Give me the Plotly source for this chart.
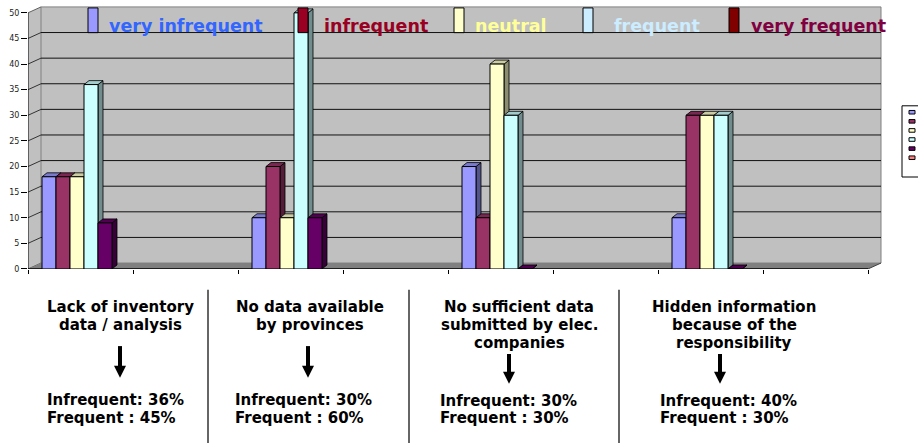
import plotly.graph_objects as go

# ---------------- data ----------------
series_names = ["very infrequent", "infrequent", "neutral", "frequent", "very frequent", "Series 6"]
series_colors = ["#9999FF", "#993366", "#FFFFCC", "#CCFFFF", "#660066", "#FF8080"]
very_infrequent = [18, 10, 20, 10]
infrequent = [18, 20, 10, 30]
neutral = [18, 10, 40, 30]
frequent = [36, 50, 30, 30]
very_frequent = [9, 10, 0, 0]
series_6 = [None, None, None, None]
series_values = [very_infrequent, infrequent, neutral, frequent, very_frequent, series_6]

problems = [
    ["Lack of inventory", "data / analysis"],
    ["No data available", "by provinces"],
    ["No sufficient data", "submitted by elec.", "companies"],
    ["Hidden information", "because of the", "responsibility"],
]
infrequent_pct = [36, 30, 30, 40]
frequent_pct = [45, 60, 30, 30]

legend_labels = ["very infrequent", "infrequent", "neutral", "frequent", "very frequent"]
legend_swatch_colors = ["#9999FF", "#990022", "#FFFFCC", "#CCECFF", "#800000"]
legend_text_colors = ["#3366FF", "#990022", "#FFFF99", "#CCECFF", "#800040"]

y_ticks = list(range(0, 51, 5))

# ---------------- geometry (pixels) ----------------
W, H = 918, 448
X0_PX, SLOT_PX = 28, 105.0
Y0_PX, UNIT_PX = 272, 5.18
N_SLOTS = 8
WALL_DX_PX, WALL_DY_PX = 13, 6
BAR_PX = 14
BAR_DX_PX, BAR_DY_PX = 5, 4

x_max = N_SLOTS + (WALL_DX_PX + 1) / SLOT_PX
y_max = 50 + (WALL_DY_PX + 1) / UNIT_PX
right_px = X0_PX + SLOT_PX * x_max
top_px = Y0_PX - UNIT_PX * y_max

wdx = WALL_DX_PX / SLOT_PX
wdy = WALL_DY_PX / UNIT_PX
bw = BAR_PX / SLOT_PX
bdx = BAR_DX_PX / SLOT_PX
bdy = BAR_DY_PX / UNIT_PX


def px(x):
    return x / W


def py(y):
    return 1 - y / H


def shade(hexcol, f):
    h = hexcol.lstrip("#")
    r, g, b = (int(h[i:i + 2], 16) for i in (0, 2, 4))
    return "rgb(%d,%d,%d)" % (r * f, g * f, b * f)


fig = go.Figure()
shapes = []

# walls / floor
shapes.append(dict(type="path", xref="x", yref="y", layer="below",
                   path=f"M 0,0 L {wdx},{wdy} L {wdx},{50 + wdy} L 0,50 Z",
                   fillcolor="#C0C0C0", line=dict(width=0)))
shapes.append(dict(type="rect", xref="x", yref="y", layer="below",
                   x0=wdx, x1=N_SLOTS + wdx, y0=wdy, y1=50 + wdy,
                   fillcolor="#C0C0C0", line=dict(color="#808080", width=1)))
for v in y_ticks:
    if 0 < v < 50:
        shapes.append(dict(type="line", xref="x", yref="y", layer="below",
                           x0=wdx, x1=N_SLOTS + wdx, y0=v + wdy, y1=v + wdy,
                           line=dict(color="#111111", width=1)))
    shapes.append(dict(type="line", xref="x", yref="y", layer="below",
                       x0=0, x1=wdx, y0=v, y1=v + wdy,
                       line=dict(color="#333333" if 0 < v < 50 else "#606060", width=1)))
shapes.append(dict(type="path", xref="x", yref="y", layer="below",
                   path=f"M 0,0 L {N_SLOTS},0 L {N_SLOTS + wdx},{wdy} L {wdx},{wdy} Z",
                   fillcolor="#808080", line=dict(width=0)))
shapes.append(dict(type="line", xref="x", yref="y", layer="below",
                   x0=N_SLOTS, x1=N_SLOTS + wdx, y0=0, y1=wdy, line=dict(color="#404040", width=1)))
shapes.append(dict(type="line", xref="x", yref="y", layer="below",
                   x0=0, x1=0, y0=0, y1=50, line=dict(color="#000000", width=1)))
shapes.append(dict(type="line", xref="x", yref="y", layer="below",
                   x0=0, x1=N_SLOTS, y0=0, y1=0, line=dict(color="#000000", width=1.5)))

# bars with 3D faces
for k in range(len(problems)):
    for j, (vals, col) in enumerate(zip(series_values, series_colors)):
        v = vals[k]
        if v is None:
            continue
        left = 2 * k + bw * (j + 1)
        right = left + bw
        shapes.append(dict(type="path", xref="x", yref="y", layer="below",
                           path=f"M {right},0 L {right + bdx},{bdy} L {right + bdx},{v + bdy} L {right},{v} Z",
                           fillcolor=shade(col, 0.55), line=dict(color="#000000", width=0.8)))
        shapes.append(dict(type="path", xref="x", yref="y", layer="below",
                           path=f"M {left},{v} L {right},{v} L {right + bdx},{v + bdy} L {left + bdx},{v + bdy} Z",
                           fillcolor=shade(col, 0.8), line=dict(color="#000000", width=0.8)))

for j, (name, vals, col) in enumerate(zip(series_names, series_values, series_colors)):
    fig.add_trace(go.Bar(
        name=name,
        x=[2 * k + bw * (j + 1) for k in range(len(vals))],
        y=vals, width=bw, offset=0,
        marker=dict(color=col, line=dict(color="#000000", width=1)),
        showlegend=False, hoverinfo="skip"))

annotations = []
# top legend
swatch_x = [88, 298, 454, 583, 729]
text_x = [107, 322, 473, 612, 749]
for lab, sc, tc, sx, tx in zip(legend_labels, legend_swatch_colors, legend_text_colors, swatch_x, text_x):
    shapes.append(dict(type="rect", xref="paper", yref="paper", layer="above",
                       x0=px(sx), x1=px(sx + 10), y0=py(33), y1=py(8),
                       fillcolor=sc, line=dict(color="#000000", width=1)))
    annotations.append(dict(text=lab, x=px(tx), y=py(26), xref="paper", yref="paper",
                            xanchor="left", yanchor="middle", showarrow=False,
                            font=dict(family="DejaVu Sans", size=17.5, color=tc, weight="bold")))

# right mini legend
shapes.append(dict(type="rect", xref="paper", yref="paper", layer="above",
                   x0=px(902), x1=px(940), y0=py(179), y1=py(107),
                   fillcolor="#FFFFFF", line=dict(color="#000000", width=1)))
for j, col in enumerate(series_colors):
    cy = 113.5 + 9.2 * j
    shapes.append(dict(type="rect", xref="paper", yref="paper", layer="above",
                       x0=px(909), x1=px(915), y0=py(cy + 1.8), y1=py(cy - 1.8),
                       fillcolor=col, line=dict(color="#000000", width=1)))

# bottom explanations
title_cx = [120, 310, 519, 734]
arrow_x = [120, 308, 509, 720]
arrow_y = [(350, 382), (350, 382), (358, 388), (358, 388)]
pct_x = [45, 233, 438, 658]
pct_y = [(405, 423), (405, 423), (406, 423), (406, 423)]
bold = dict(family="DejaVu Sans", size=15, color="#000000", weight="bold")
for k, lines in enumerate(problems):
    for i, line in enumerate(lines):
        annotations.append(dict(text=line, x=px(title_cx[k]), y=py(310 + 18.5 * i),
                                xref="paper", yref="paper", xanchor="center", yanchor="middle",
                                showarrow=False, font=bold))
    ax = arrow_x[k]
    y_top, y_tip = arrow_y[k]
    shapes.append(dict(type="line", xref="paper", yref="paper", x0=px(ax), x1=px(ax),
                       y0=py(y_top), y1=py(y_tip - 10), line=dict(color="#000000", width=4)))
    shapes.append(dict(type="path", xref="paper", yref="paper",
                       path=f"M {px(ax - 6)},{py(y_tip - 12)} L {px(ax + 6)},{py(y_tip - 12)} L {px(ax)},{py(y_tip)} Z",
                       fillcolor="#000000", line=dict(width=0)))
    annotations.append(dict(text=f"Infrequent: {infrequent_pct[k]}%", x=px(pct_x[k]), y=py(pct_y[k][0]),
                            xref="paper", yref="paper", xanchor="left", yanchor="middle",
                            showarrow=False, font=bold))
    annotations.append(dict(text=f"Frequent : {frequent_pct[k]}%", x=px(pct_x[k]), y=py(pct_y[k][1]),
                            xref="paper", yref="paper", xanchor="left", yanchor="middle",
                            showarrow=False, font=bold))

for dx in [208, 409, 619]:
    shapes.append(dict(type="line", xref="paper", yref="paper", x0=px(dx), x1=px(dx),
                       y0=py(293), y1=py(448), line=dict(color="#333333", width=1.5)))

fig.update_layout(
    width=W, height=H,
    margin=dict(l=0, r=0, t=0, b=0),
    paper_bgcolor="#FFFFFF", plot_bgcolor="#FFFFFF",
    barmode="overlay",
    showlegend=False,
    xaxis=dict(domain=[X0_PX / W, right_px / W], range=[0, x_max],
               tickvals=list(range(N_SLOTS + 1)), ticks="outside", ticklen=4,
               tickcolor="#000000", showticklabels=False, showgrid=False,
               zeroline=False, showline=False, fixedrange=True),
    yaxis=dict(domain=[1 - Y0_PX / H, 1 - top_px / H], range=[0, y_max],
               tickvals=y_ticks, ticks="outside", ticklen=6, tickcolor="#000000",
               tickfont=dict(family="DejaVu Sans", size=8, color="#222222"),
               showgrid=False, zeroline=False, showline=False, fixedrange=True),
    shapes=shapes,
    annotations=annotations,
)

css = ("var s=document.createElement('style');"
       "s.textContent='html,body{margin:0;padding:0;overflow:hidden;}';"
       "document.head.appendChild(s);")
fig.write_html("out.html", config={"displayModeBar": False}, post_script=css)
